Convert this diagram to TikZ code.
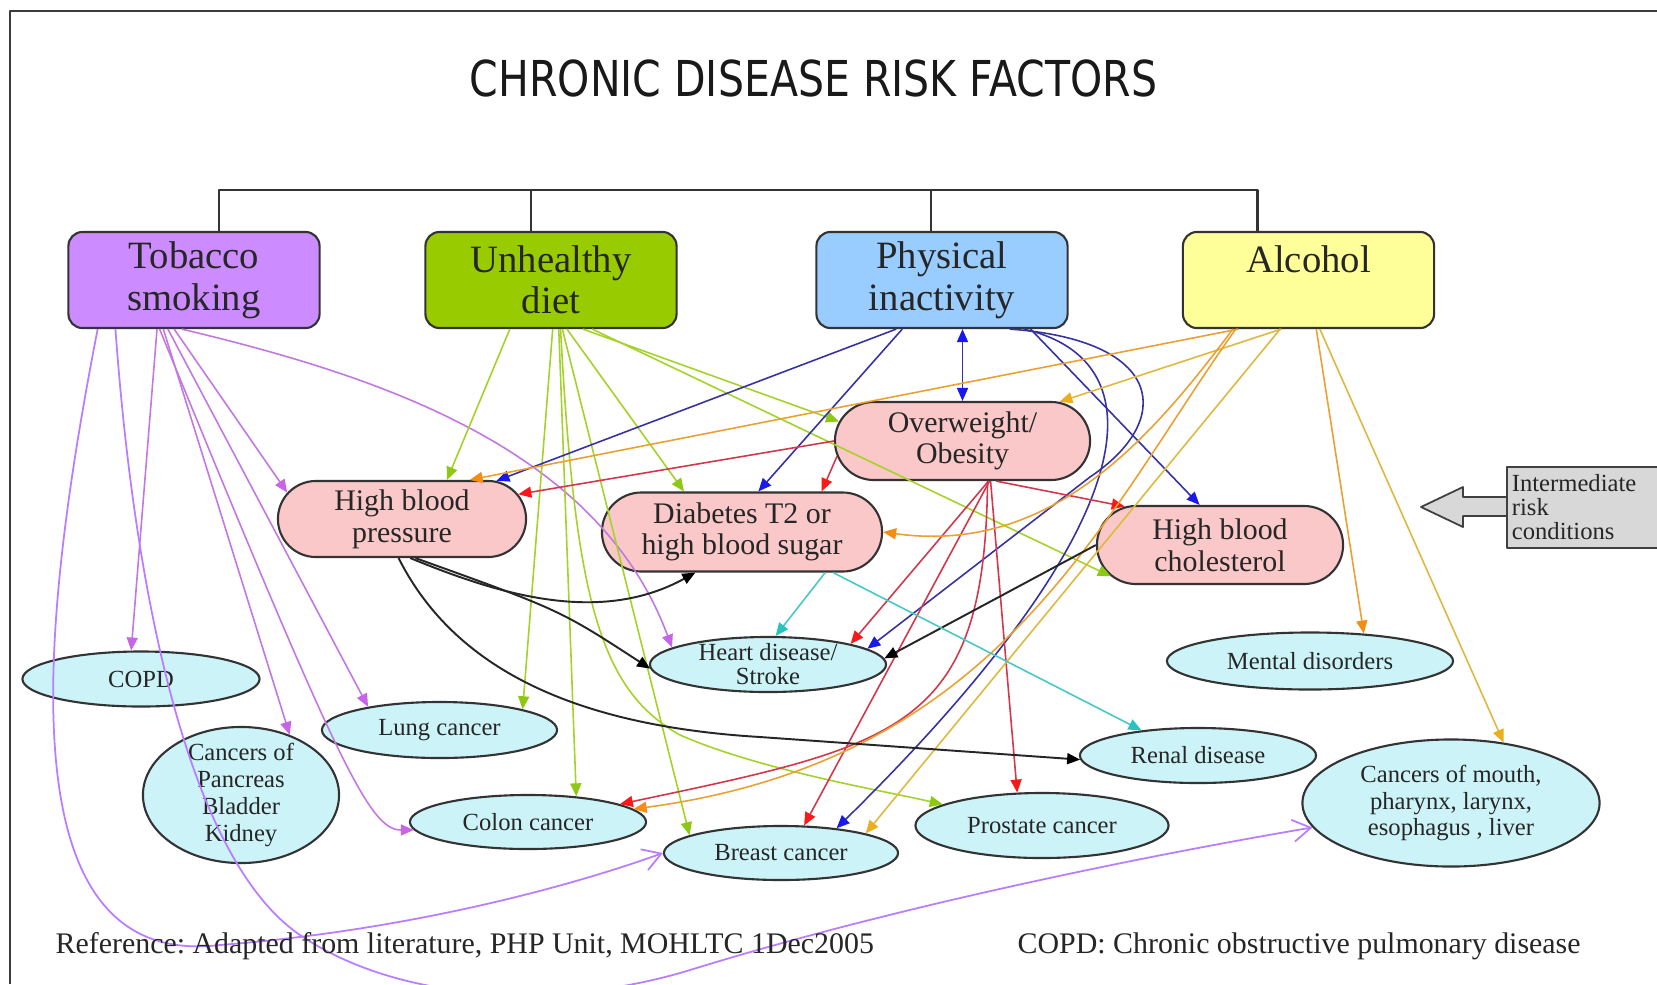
\documentclass[tikz,border=0pt]{standalone}
\usepackage{fontspec}
\setmainfont{Liberation Serif}
\setsansfont{DejaVu Sans}
\usepackage{graphicx}
\usepackage{tikz}
\usetikzlibrary{calc,arrows.meta,shapes.geometric,shapes.misc}
\frenchspacing

\definecolor{tobfill}{RGB}{204,140,255}
\definecolor{dietfill}{RGB}{153,204,0}
\definecolor{physfill}{RGB}{153,204,255}
\definecolor{alcfill}{RGB}{255,255,153}
\definecolor{condfill}{RGB}{250,200,200}
\definecolor{disfill}{RGB}{204,244,248}
\definecolor{boxgray}{RGB}{216,216,216}
\definecolor{framegray}{RGB}{60,60,60}
\definecolor{tobline}{RGB}{195,120,225}
\definecolor{tobhead}{RGB}{200,100,230}
\definecolor{tobcurve}{RGB}{185,125,255}
\definecolor{dietline}{RGB}{165,210,40}
\definecolor{diethead}{RGB}{140,200,20}
\definecolor{physline}{RGB}{55,50,160}
\definecolor{physhead}{RGB}{25,25,235}
\definecolor{obesline}{RGB}{210,55,75}
\definecolor{obeshead}{RGB}{250,25,25}
\definecolor{alcline}{RGB}{235,160,50}
\definecolor{alchead}{RGB}{245,140,20}
\definecolor{alcgold}{RGB}{222,185,60}
\definecolor{goldhead}{RGB}{235,175,30}
\definecolor{diabline}{RGB}{70,200,200}
\definecolor{diabhead}{RGB}{40,195,190}

\begin{document}
\begin{tikzpicture}
                [x=0.01cm, y=-0.01cm, line join=round,
                 riskbox/.style={draw=black!80, line width=0.6pt, rounded corners=1.4mm, minimum width=2.51cm, minimum height=0.96cm, inner sep=0pt, align=center, text=black!85, font=\fontsize{11}{11.8}\selectfont},
                 condbox/.style={rounded rectangle, draw=black!80, line width=0.6pt, fill=condfill, inner sep=0pt, align=center, text=black!85, font=\fontsize{8.5}{9}\selectfont},
                 disbox/.style={ellipse, draw=black!80, line width=0.6pt, fill=disfill, inner xsep=0pt, inner ysep=-1mm, align=center, text=black!85, font=\fontsize{7}{7.6}\selectfont},
                 ahead/.style={-{Triangle[length=1.3mm,width=1.1mm,color=#1]}},
                 tobedge/.style={draw=tobline, line width=0.45pt, ahead=tobhead},
                 tobloop/.style={draw=tobcurve, line width=0.5pt, -{Straight Barb[length=1.8mm,width=2.2mm]}},
                 dietedge/.style={draw=dietline, line width=0.45pt, ahead=diethead},
                 physedge/.style={draw=physline, line width=0.45pt, ahead=physhead},
                 obesedge/.style={draw=obesline, line width=0.45pt, ahead=obeshead},
                 alcedge/.style={draw=alcline, line width=0.45pt, ahead=alchead},
                 goldedge/.style={draw=alcgold, line width=0.45pt, ahead=goldhead},
                 diabedge/.style={draw=diabline, line width=0.45pt, ahead=diabhead},
                 blackedge/.style={draw=black!85, line width=0.55pt, ahead=black},
                 bracket/.style={draw=black!80, line width=0.6pt}]

                \useasboundingbox (0,0) rectangle (1657,984);
                \fill[white] (0,0) rectangle (1657,984);
                \draw[framegray, line width=0.8pt] (10,984) -- (10,11) -- (1657,11);

                \node[inner sep=0pt, text=black!90] (title) at (813.5,78) {\resizebox{6.87cm}{0.367cm}{\sffamily CHRONIC DISEASE RISK FACTORS}};

                % risk factors
                \node[riskbox, fill=tobfill] (tob) at (194,280) {Tobacco\\smoking};
                \node[riskbox, fill=dietfill] (diet) at (551,280) {Unhealthy\\diet};
                \node[riskbox, fill=physfill] (phys) at (942,280) {Physical\\inactivity};
                \node[riskbox, fill=alcfill] (alc) at (1308.5,280) {Alcohol\\\mbox{}};

                \draw[bracket] ($(tob.north)+(25,0)$) |- ($(alc.north)+(-51,-41)$) -- ($(alc.north)+(-51,0)$);
                \draw[bracket] ($(diet.north)+(-20,0)$) -- ++(0,-41);
                \draw[bracket] ($(phys.north)+(-11,0)$) -- ++(0,-41);

                % intermediate conditions
                \node[condbox, minimum width=2.48cm, minimum height=0.76cm] (hbp) at (402,519) {High blood\\pressure};
                \node[condbox, minimum width=2.55cm, minimum height=0.78cm] (obes) at (962.5,441) {Overweight/\\Obesity};
                \node[condbox, minimum width=2.80cm, minimum height=0.79cm] (diab) at (742,532) {Diabetes T2 or\\high blood sugar};
                \node[condbox, minimum width=2.46cm, minimum height=0.78cm] (chol) at (1220,545) {High blood\\cholesterol};

                % diseases
                \node[disbox, minimum width=2.37cm, minimum height=0.55cm] (copd) at (141,679) {COPD};
                \node[disbox, minimum width=2.35cm, minimum height=0.56cm] (lung) at (439.5,730) {Lung cancer};
                \node[disbox, minimum width=1.96cm, minimum height=1.36cm] (panc) at (241,795) {Cancers of\\Pancreas\\Bladder\\Kidney};
                \node[disbox, minimum width=2.36cm, minimum height=0.55cm, font=\fontsize{7}{6.8}\selectfont] (heart) at (768,664.5) {Heart disease/\\Stroke};
                \node[disbox, minimum width=2.36cm, minimum height=0.54cm] (colon) at (528,822) {Colon cancer};
                \node[disbox, minimum width=2.34cm, minimum height=0.54cm] (breast) at (781,853) {Breast cancer};
                \node[disbox, minimum width=2.53cm, minimum height=0.65cm] (prost) at (1042,825.5) {Prostate cancer};
                \node[disbox, minimum width=2.36cm, minimum height=0.55cm] (renal) at (1198,755.5) {Renal disease};
                \node[disbox, minimum width=2.86cm, minimum height=0.57cm] (mental) at (1310,661) {Mental disorders};
                \node[disbox, minimum width=2.97cm, minimum height=1.27cm] (mouth) at (1451,803) {Cancers of mouth,\\pharynx, larynx,\\esophagus , liver};

                % side label
                \filldraw[draw=black!75, fill=boxgray, line width=0.5pt] (1506,497) -- (1463,497) -- (1463,487) -- (1421,507) -- (1463,527) -- (1463,516) -- (1506,516);
                \node[draw=black!75, fill=boxgray, line width=0.5pt, anchor=north west, minimum height=0.81cm, text width=1.6cm, inner xsep=0.5mm, inner ysep=0pt, align=left, text=black!85, font=\fontsize{7}{6.8}\selectfont] (cond) at (1506,466) {Intermediate\\risk\\conditions};

                % tobacco
                \draw[tobedge] (tob.-127) -- (copd.109);
                \draw[tobedge] (tob.-112) -- (hbp.167);
                \draw[tobedge] (tob.-118) -- (lung.162);
                \draw[tobedge] (tob.-122) -- (panc.51);
                \draw[tobedge] (tob.-125) .. controls (340,770) and (370,830) .. (colon.184);
                \draw[tobedge] (tob.-104) .. controls (379,376) and (598,448) .. (heart.170);
                \draw[tobloop] (tob.-153) .. controls (35,650) and (10,970) .. (220,945) .. controls (400,931) and (560,890) .. (breast.180);
                \draw[tobloop] (tob.-148) .. controls (135,600) and (190,860) .. (300,935) .. controls (400,1003) and (560,1010) .. (690,970) .. controls (900,905) and (1150,855) .. (mouth.190);

                % diet
                \draw[dietedge] (diet.-130) -- (hbp.41);
                \draw[dietedge] (diet.-88) -- (lung.14);
                \draw[dietedge] (diet.-81) -- (colon.28);
                \draw[dietedge] (diet.-77) -- (breast.169);
                \draw[dietedge] (diet.-79) .. controls (575,600) and (600,690) .. (680,735) .. controls (760,770) and (880,790) .. (prost.168);
                \draw[dietedge] (diet.-72) -- (diab.145);
                \draw[dietedge] (diet.-57) -- (obes.171);
                \draw[dietedge] (diet.-50) -- (chol.196);

                % inactivity
                \draw[physedge] (phys.-133) -- (hbp.22);
                \draw[physedge] (phys.-129) -- (diab.68);
                \draw[physedge, {Triangle[length=1.3mm,width=1.1mm,color=physhead]}-{Triangle[length=1.3mm,width=1.1mm,color=physhead]}] (obes.north |- phys.south) -- (obes.north);
                \draw[physedge] (phys.-29) -- (chol.117);
                \draw[physedge] (phys.-36) .. controls (1165,340) and (1175,420) .. (1090,477) -- (heart.9);
                \draw[physedge] (phys.-31) .. controls (1160,360) and (1150,520) .. (breast.24);

                % overweight
                \draw[obesedge] (obes.180) -- (hbp.12);
                \draw[obesedge] (obes.187) -- (diab.27);
                \draw[obesedge] (obes.-50) -- (chol.158);
                \draw[obesedge] (obes.-57) -- (heart.14);
                \draw[obesedge] (obes.-55) -- (prost.127);
                \draw[obesedge] (obes.-56) -- (breast.50);
                \draw[obesedge] (obes.-58) .. controls (985,730) and (900,745) .. (colon.11);

                % alcohol
                \draw[alcedge] (alc.-145) -- (hbp.30);
                \draw[goldedge] (alc.-119) -- (obes.22);
                \draw[alcedge] (alc.-147) .. controls (1150,440) and (1050,555) .. (diab.0);
                \draw[alcedge] (alc.-146) .. controls (1100,520) and (1000,760) .. (colon.7);
                \draw[goldedge] (alc.-120) -- (breast.13);
                \draw[alcedge] (alc.-81) -- (mental.27);
                \draw[goldedge] (alc.-77) -- (mouth.49);

                % conditions to diseases
                \draw[blackedge] (hbp.-78) .. controls (500,595) and (600,625) .. (diab.-139);
                \draw[blackedge] (hbp.-71) .. controls (560,610) .. (heart.182);
                \draw[blackedge] (hbp.-95) .. controls (450,660) and (560,725) .. (760,737) -- (renal.182);
                \draw[blackedge] (chol.180) -- (heart.3);
                \draw[diabedge] (diab.-26) -- (heart.75);
                \draw[diabedge] (diab.-24) -- (renal.156);

                \node[anchor=base west, inner sep=0pt, text=black!85, font=\fontsize{8.5}{10}\selectfont] (refnote) at (55,953) {Reference: Adapted from literature, PHP Unit, MOHLTC 1Dec2005};
                \node[anchor=base west, inner sep=0pt, text=black!85, font=\fontsize{8.5}{10}\selectfont] (copdnote) at (1017,953) {COPD: Chronic obstructive pulmonary disease};
            \end{tikzpicture}
\end{document}
